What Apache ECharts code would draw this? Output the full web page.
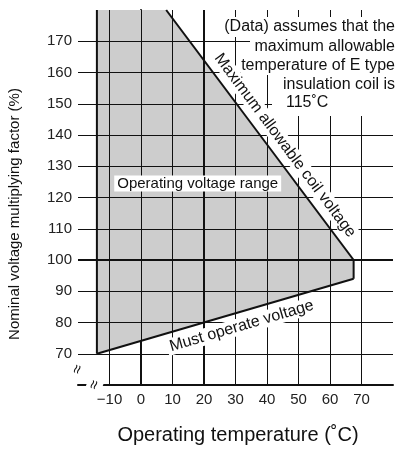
<!DOCTYPE html>
<html>
<head>
<meta charset="utf-8">
<script src="https://cdn.jsdelivr.net/npm/echarts@6/dist/echarts.min.js"></script>
<style>
  html, body { margin: 0; padding: 0; background: #fff; }
  #chart { width: 401px; height: 450px; }
</style>
</head>
<body>
<div id="chart"></div>
<script>
// tick values / labels
const xTicks = [-10, 0, 10, 20, 30, 40, 50, 60, 70];
const xTickLabels = ['\u221210', '0', '10', '20', '30', '40', '50', '60', '70'];
const yTicks = [70, 80, 90, 100, 110, 120, 130, 140, 150, 160, 170];
const yTickLabels = ['70', '80', '90', '100', '110', '120', '130', '140', '150', '160', '170'];
const boldX = [20];
const boldY = [100];

// operating range outline, [temperature, % of nominal]
const maxCoilLine = [[8, 180], [67.5, 100]];
const dropLine = [[67.5, 100], [67.5, 94]];
const mustOperateLine = [[-14, 70], [67.5, 94]];
const leftEdge = [[-14, 70], [-14, 180]];
const rangeArea = [[-14, 180], [8, 180], [67.5, 100], [67.5, 94], [-14, 70]];

const noteLines = ['(Data) assumes that the', 'maximum allowable', 'temperature of E type', 'insulation coil is', '115\u02daC'];

const FONT = "'Liberation Sans', Arial, sans-serif";
const chart = echarts.init(document.getElementById('chart'));

function outline(data) {
  return {
    type: 'line', data: data, symbol: 'none', z: 3, silent: true, animation: false,
    lineStyle: { color: '#111', width: 2 }
  };
}

function gridLines() {
  const items = [];
  yTicks.forEach(v => items.push({ yAxis: v, lineStyle: { color: '#111', width: boldY.includes(v) ? 2 : 1, type: 'solid' } }));
  xTicks.forEach(v => items.push({ xAxis: v, lineStyle: { color: '#111', width: boldX.includes(v) ? 2 : 1, type: 'solid' } }));
  return items;
}

chart.setOption({
  animation: false,
  grid: { left: 78, right: 8, top: 10, bottom: 65, containLabel: false, outerBoundsMode: 'none' },
  xAxis: {
    type: 'value', min: -20, max: 80, interval: 10,
    axisLine: { lineStyle: { color: '#111', width: 2 } },
    axisTick: { show: false },
    splitLine: { show: false },
    axisLabel: {
      margin: 7, fontSize: 15, color: '#222', fontFamily: FONT,
      formatter: v => { const i = xTicks.indexOf(v); return i < 0 ? '' : xTickLabels[i]; }
    }
  },
  yAxis: {
    type: 'value', min: 60, max: 180, interval: 10,
    axisLine: { lineStyle: { color: '#111', width: 2 } },
    axisTick: { show: false },
    splitLine: { show: false },
    axisLabel: {
      margin: 6, fontSize: 15, color: '#222', fontFamily: FONT,
      formatter: v => { const i = yTicks.indexOf(v); return i < 0 ? '' : yTickLabels[i]; }
    }
  },
  series: [
    {
      type: 'custom', z: 1, silent: true, data: [rangeArea[0]],
      renderItem: (params, api) => ({
        type: 'polygon',
        shape: { points: rangeArea.map(p => api.coord(p)) },
        style: { fill: '#cdcdcd' }
      })
    },
    {
      type: 'line', data: [], z: 2, silent: true,
      markLine: {
        silent: true, animation: false, symbol: ['none', 'none'],
        label: { show: false },
        data: gridLines()
      }
    },
    outline(maxCoilLine),
    outline(dropLine),
    outline(mustOperateLine),
    outline(leftEdge)
  ]
});

// ---- labels placed along the lines ----
function px(p) { return chart.convertToPixel({ gridIndex: 0 }, p); }
function angleOf(seg) {
  const a = px(seg[0]), b = px(seg[1]);
  return Math.atan2(b[1] - a[1], b[0] - a[0]);
}
function labelOn(seg, t, off) {
  const k = (t - seg[0][0]) / (seg[1][0] - seg[0][0]);
  const p = px([t, seg[0][1] + k * (seg[1][1] - seg[0][1])]);
  const th = angleOf(seg);
  return { x: p[0] + off * Math.sin(th), y: p[1] - off * Math.cos(th), rotation: -th };
}
function lineText(text, pos, size) {
  return {
    type: 'text', x: pos.x, y: pos.y, rotation: pos.rotation, z: 20, silent: true,
    style: {
      text: text, font: size + 'px ' + FONT, fill: '#111', align: 'center', verticalAlign: 'middle',
      backgroundColor: '#fff', padding: [1, 3, 0, 3]
    }
  };
}

const graphics = [];
// note in top right corner
const noteRows = [
  { left: 218, top: 17, h: 20, x: 395, align: 'right' },
  { left: 250, top: 37, h: 19, x: 395, align: 'right' },
  { left: 241, top: 56, h: 19, x: 395, align: 'right' },
  { left: 276, top: 75, h: 19, x: 395, align: 'right' },
  { left: 272, top: 94, h: 22, x: 286, align: 'left' }
];
noteRows.forEach((r, i) => {
  graphics.push({ type: 'rect', z: 15, silent: true, shape: { x: r.left, y: r.top, width: 401 - r.left, height: r.h }, style: { fill: '#fff' } });
  graphics.push({
    type: 'text', z: 16, silent: true, x: r.x, y: r.top + (i === 4 ? 9 : r.h / 2),
    style: { text: noteLines[i], font: '16px ' + FONT, fill: '#111', align: r.align, verticalAlign: 'middle' }
  });
});

graphics.push(lineText('Maximum allowable coil voltage', labelOn(maxCoilLine, 42.2, 13.7), 16));
graphics.push(lineText('Must operate voltage', labelOn(mustOperateLine, 30.7, -14), 16));
const mid = px([18, 124.5]);
graphics.push(lineText('Operating voltage range', { x: mid[0], y: mid[1], rotation: 0 }, 15));

// axis break marks
const yb = px([-20, 65]);
const xb = px([-14.7, 60]);
[yb, xb].forEach(p => graphics.push({
  type: 'text', z: 20, silent: true, x: p[0], y: p[1], rotation: 1.25,
  style: { text: '\u2248', font: '16px ' + FONT, fill: '#111', align: 'center', verticalAlign: 'middle', backgroundColor: '#fff' }
}));

// axis titles
graphics.push({ type: 'text', z: 20, silent: true, x: 238, y: 435,
  style: { text: 'Operating temperature (\u02daC)', font: '20px ' + FONT, fill: '#111', align: 'center', verticalAlign: 'middle' } });
graphics.push({ type: 'text', z: 20, silent: true, x: 15, y: 214, rotation: Math.PI / 2,
  style: { text: 'Nominal voltage multiplying factor (%)', font: '15px ' + FONT, fill: '#111', align: 'center', verticalAlign: 'middle' } });

chart.setOption({ graphic: graphics });
</script>
</body>
</html>
